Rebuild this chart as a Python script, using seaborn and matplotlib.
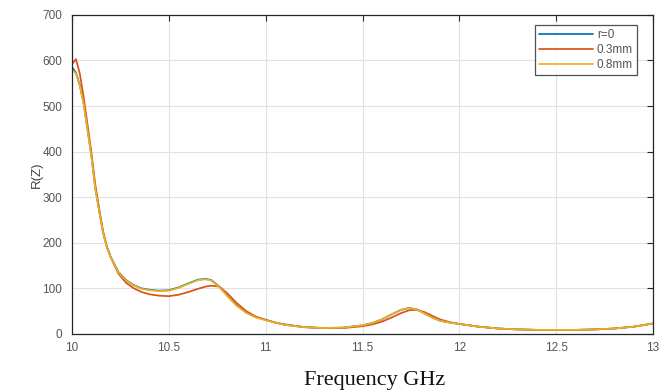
import numpy as np
import pandas as pd
import matplotlib
matplotlib.use("Agg")
import matplotlib.pyplot as plt
import seaborn as sns
from matplotlib.ticker import FuncFormatter

# Frequency samples (GHz)
freq = [10.00, 10.02, 10.04, 10.06, 10.08, 10.10, 10.12, 10.14, 10.16, 10.18,
        10.20, 10.24, 10.28, 10.32, 10.36, 10.40, 10.45, 10.50, 10.55, 10.60,
        10.65, 10.69, 10.72, 10.76, 10.80, 10.85, 10.90, 10.95, 11.00, 11.05,
        11.10, 11.20, 11.30, 11.40, 11.50, 11.55, 11.60, 11.65, 11.70, 11.74,
        11.78, 11.82, 11.86, 11.90, 11.95, 12.00, 12.10, 12.20, 12.30, 12.40,
        12.50, 12.60, 12.70, 12.80, 12.90, 13.00]

# Real part of the input impedance for each radius
r_0 = [585, 574, 546, 506, 449, 391, 321, 271, 223, 191,
       169, 136, 118, 107, 100, 97, 95, 96, 102, 111,
       119, 121, 118, 104, 85, 63, 47, 37, 31, 25,
       21, 15, 13, 14, 19, 24, 32, 43, 53, 57,
       54, 45, 36, 29, 25, 22, 16, 12, 10, 9,
       9, 9, 10, 12, 16, 23]

r_03 = [592, 603, 572, 520, 460, 398, 328, 276, 226, 192,
        168, 132, 112, 100, 92, 87, 84, 83, 86, 92,
        99, 104, 106, 104, 90, 68, 50, 38, 31, 25,
        20, 15, 13, 13, 17, 21, 27, 36, 46, 52,
        53, 48, 40, 32, 26, 22, 16, 12, 10, 9,
        9, 9, 10, 12, 16, 23]

r_08 = [580, 572, 545, 505, 448, 390, 320, 270, 222, 190,
        168, 135, 117, 106, 99, 96, 94, 95, 101, 110,
        118, 120, 117, 103, 84, 62, 46, 36, 30, 25,
        20, 15, 13, 14, 19, 24, 32, 43, 53, 57,
        54, 45, 36, 29, 25, 22, 16, 12, 10, 9,
        9, 9, 10, 12, 16, 23]

series_names = ["r=0", "0.3mm", "0.8mm"]
series_colors = ["#0072BD", "#D95319", "#EDB120"]

x_ticks = [10, 10.5, 11, 11.5, 12, 12.5, 13]
y_ticks = [0, 100, 200, 300, 400, 500, 600, 700]

df = pd.DataFrame({
    "freq": freq * 3,
    "R": r_0 + r_03 + r_08,
    "case": [series_names[0]] * len(freq) + [series_names[1]] * len(freq)
            + [series_names[2]] * len(freq),
})

sns.set_style("white")
plt.rcParams["font.family"] = ["Liberation Sans", "DejaVu Sans"]

fig = plt.figure(figsize=(6.63, 3.92), dpi=100)
ax = fig.add_axes([0.1086, 0.148, 0.8764, 0.814])

sns.lineplot(data=df, x="freq", y="R", hue="case", hue_order=series_names,
             palette=series_colors, linewidth=1.25, ax=ax, sort=False)

ax.set_xlim(10, 13)
ax.set_ylim(0, 700)
ax.set_xticks(x_ticks)
ax.set_yticks(y_ticks)
ax.xaxis.set_major_formatter(FuncFormatter(lambda v, p: f"{v:g}"))
ax.grid(True, color="#e2e2e2", linewidth=0.8)
ax.set_axisbelow(True)

for side in ["left", "right", "top", "bottom"]:
    ax.spines[side].set_visible(True)
    ax.spines[side].set_color("#262626")
    ax.spines[side].set_linewidth(0.9)

ax.tick_params(axis="both", direction="in", length=4, width=0.8,
               colors="#262626", labelcolor="#555555", labelsize=8.5,
               top=True, right=True)
ax.tick_params(axis="x", pad=6)
ax.tick_params(axis="y", pad=7)

ax.set_ylabel("R(Z)", fontsize=9.5, color="#444444")
ax.yaxis.set_label_coords(-0.05, 0.5)
ax.set_xlabel("Frequency GHz", fontsize=16, color="#111111",
              family=["Liberation Serif", "DejaVu Serif"])
ax.xaxis.set_label_coords(0.52, -0.115)

leg = ax.legend(loc="upper right", bbox_to_anchor=(0.9725, 0.9687),
                frameon=True, fancybox=False, fontsize=8.5,
                handlelength=4.6, handletextpad=0.3, borderpad=0.35,
                labelspacing=0.25, borderaxespad=0.0)
leg.get_frame().set_edgecolor("#262626")
leg.get_frame().set_linewidth(0.9)
for t in leg.get_texts():
    t.set_color("#555555")

fig.savefig("out.png", dpi=100)
